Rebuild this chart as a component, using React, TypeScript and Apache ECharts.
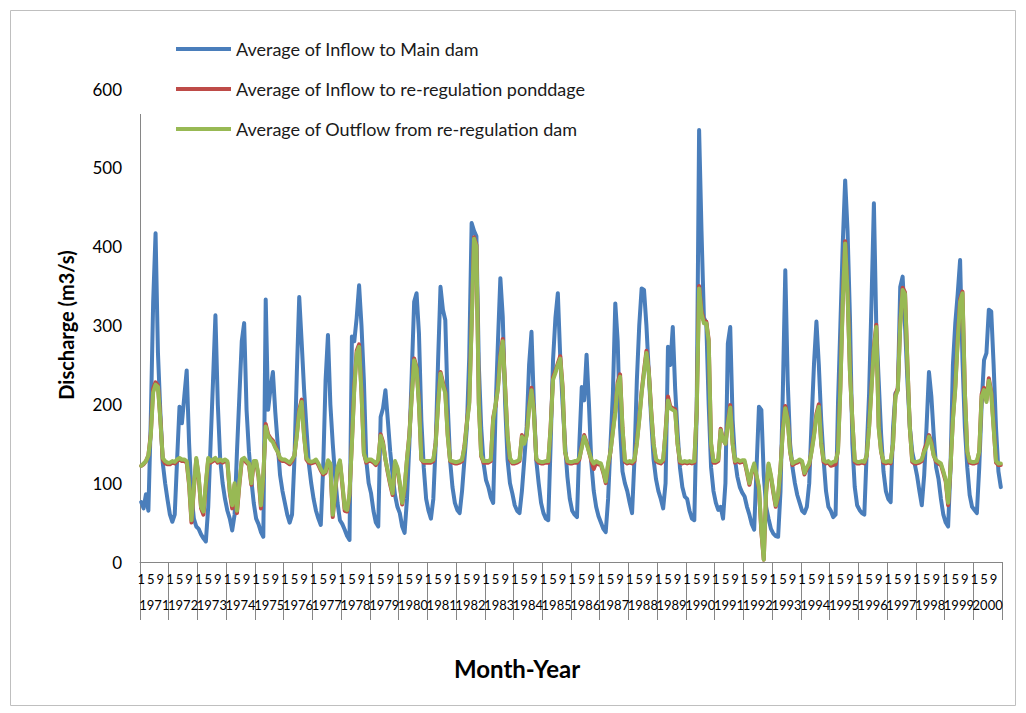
import React, { useEffect, useRef } from 'react';
import * as echarts from 'echarts';

const years = [
  '1971', '1972', '1973', '1974', '1975', '1976', '1977', '1978', '1979', '1980',
  '1981', '1982', '1983', '1984', '1985', '1986', '1987', '1988', '1989', '1990',
  '1991', '1992', '1993', '1994', '1995', '1996', '1997', '1998', '1999', '2000',
];
const monthNumbers = ['1', '2', '3', '4', '5', '6', '7', '8', '9', '10', '11', '12'];
const shownMonths = ['1', '5', '9'];

const seriesNames = [
  'Average of Inflow to Main dam',
  'Average of Inflow to re-regulation ponddage',
  'Average of Outflow from re-regulation dam',
];

// Average of Inflow to Main dam (m3/s), Jan..Dec for each year 1971..2000
const inflowMain = [
  76, 68, 86, 65, 180, 330, 417, 265, 190, 126, 100, 79,
  60, 51, 60, 130, 197, 176, 210, 243, 151, 85, 55, 45,
  42, 35, 30, 26, 70, 151, 230, 313, 200, 130, 100, 80,
  65, 55, 40, 60, 140, 210, 280, 303, 193, 140, 104, 75,
  55, 48, 38, 32, 333, 193, 220, 241, 190, 150, 110, 90,
  75, 60, 50, 60, 130, 240, 336, 280, 220, 170, 125, 100,
  80, 65, 55, 47, 120, 230, 288, 200, 150, 108, 75, 53,
  48, 41, 33, 28, 286, 280, 310, 351, 300, 230, 129, 100,
  87, 65, 50, 45, 184, 195, 218, 180, 140, 110, 85, 70,
  62, 45, 37, 80, 150, 240, 330, 341, 290, 180, 120, 80,
  65, 55, 80, 150, 256, 349, 320, 307, 200, 129, 95, 75,
  66, 62, 90, 130, 170, 260, 430, 420, 413, 250, 170, 125,
  104, 95, 82, 75, 193, 280, 360, 311, 200, 130, 100, 87,
  72, 65, 62, 90, 130, 172, 250, 292, 200, 129, 100, 75,
  62, 55, 53, 150, 256, 310, 341, 260, 200, 150, 108, 80,
  65, 60, 57, 150, 222, 205, 263, 200, 125, 90, 70, 58,
  50, 42, 38, 80, 150, 214, 328, 280, 170, 115, 100, 90,
  75, 62, 130, 230, 300, 347, 345, 300, 240, 180, 130, 105,
  90, 80, 68, 100, 273, 250, 298, 220, 165, 120, 95, 83,
  80, 65, 55, 53, 193, 548, 420, 310, 303, 200, 120, 90,
  75, 66, 70, 55, 100, 277, 298, 180, 130, 108, 95, 88,
  83, 70, 60, 48, 41, 120, 197, 193, 110, 70, 55, 42,
  36, 33, 32, 90, 220, 370, 230, 150, 120, 100, 85, 75,
  65, 62, 70, 100, 180, 252, 305, 250, 180, 130, 90, 70,
  65, 57, 60, 200, 300, 404, 484, 420, 310, 150, 95, 72,
  66, 62, 60, 140, 214, 330, 455, 298, 230, 163, 115, 90,
  80, 76, 170, 214, 218, 349, 362, 300, 230, 172, 140, 125,
  110, 90, 72, 110, 172, 241, 210, 160, 120, 105, 80, 60,
  50, 45, 120, 250, 303, 340, 383, 256, 170, 120, 85, 70,
  66, 62, 120, 200, 256, 265, 320, 318, 250, 170, 115, 95,
];

// Average of Inflow to re-regulation ponddage (m3/s)
const inflowPond = [
  122, 124, 128, 135, 162, 220, 228, 224, 182, 130, 125, 124,
  124, 126, 125, 128, 130, 128, 128, 126, 98, 50, 93, 130,
  108, 68, 60, 98, 130, 126, 128, 130, 126, 128, 126, 128,
  126, 88, 68, 98, 62, 98, 128, 130, 126, 123, 98, 126,
  126, 108, 68, 108, 175, 162, 157, 154, 147, 140, 130, 128,
  128, 126, 124, 128, 135, 162, 193, 206, 162, 130, 126, 125,
  126, 128, 123, 116, 111, 113, 127, 123, 57, 88, 118, 127,
  98, 65, 64, 85, 152, 223, 268, 276, 216, 138, 126, 128,
  128, 126, 123, 128, 162, 152, 130, 113, 98, 85, 126, 118,
  98, 73, 93, 130, 162, 212, 258, 247, 202, 130, 126, 126,
  126, 126, 128, 152, 202, 241, 228, 216, 162, 128, 126, 125,
  125, 126, 128, 147, 177, 203, 303, 412, 402, 202, 134, 126,
  126, 126, 128, 183, 198, 222, 262, 283, 222, 160, 130, 125,
  125, 126, 128, 161, 152, 162, 197, 221, 192, 130, 126, 125,
  125, 126, 126, 172, 234, 242, 252, 261, 222, 140, 126, 125,
  125, 126, 126, 130, 147, 161, 152, 140, 128, 118, 126, 124,
  123, 113, 100, 123, 140, 167, 192, 228, 238, 170, 127, 125,
  126, 125, 128, 152, 182, 216, 243, 268, 242, 192, 150, 128,
  126, 125, 128, 167, 210, 197, 195, 194, 150, 126, 125, 126,
  125, 126, 125, 126, 192, 350, 318, 306, 305, 282, 150, 126,
  126, 128, 169, 155, 150, 177, 199, 150, 126, 128, 126, 127,
  127, 113, 98, 113, 123, 108, 93, 38, 3, 88, 123, 108,
  88, 70, 83, 120, 169, 198, 182, 140, 123, 125, 126, 128,
  126, 111, 118, 123, 142, 162, 188, 200, 150, 127, 125, 126,
  122, 123, 124, 142, 223, 333, 407, 343, 242, 180, 127, 125,
  125, 126, 125, 135, 172, 223, 273, 301, 172, 140, 126, 125,
  126, 125, 150, 212, 221, 302, 348, 342, 252, 170, 127, 125,
  125, 126, 128, 142, 150, 161, 152, 135, 127, 125, 123, 113,
  102, 72, 120, 182, 223, 283, 333, 343, 216, 140, 126, 125,
  125, 126, 140, 213, 221, 205, 233, 216, 172, 126, 123, 123,
];

// Average of Outflow from re-regulation dam (m3/s)
const outflowDam = [
  122, 125, 128, 135, 160, 215, 225, 222, 180, 132, 128, 126,
  126, 128, 127, 130, 132, 130, 130, 128, 100, 53, 95, 132,
  110, 70, 64, 100, 132, 128, 130, 132, 128, 130, 128, 130,
  128, 90, 72, 100, 65, 100, 130, 132, 128, 125, 100, 128,
  128, 110, 72, 110, 172, 160, 155, 152, 145, 140, 132, 130,
  130, 128, 126, 130, 135, 160, 190, 203, 160, 132, 128, 127,
  128, 130, 125, 118, 113, 115, 129, 125, 60, 90, 120, 129,
  100, 68, 66, 87, 150, 220, 265, 273, 214, 138, 128, 130,
  130, 128, 125, 130, 160, 150, 130, 115, 100, 87, 128, 120,
  100, 75, 95, 130, 160, 210, 256, 245, 200, 130, 128, 128,
  128, 128, 130, 150, 200, 239, 225, 214, 160, 129, 128, 127,
  127, 128, 130, 145, 175, 200, 300, 410, 400, 200, 135, 128,
  128, 128, 130, 180, 200, 220, 260, 280, 220, 160, 132, 127,
  127, 128, 130, 159, 150, 160, 195, 218, 190, 131, 128, 127,
  127, 128, 128, 170, 231, 240, 250, 258, 220, 140, 128, 127,
  127, 128, 128, 132, 145, 159, 150, 140, 130, 125, 128, 126,
  125, 115, 102, 125, 140, 165, 190, 225, 235, 170, 129, 127,
  128, 127, 130, 150, 180, 214, 240, 265, 240, 190, 150, 130,
  128, 127, 130, 165, 205, 195, 193, 191, 150, 128, 127, 128,
  127, 128, 127, 128, 190, 347, 315, 303, 303, 280, 150, 128,
  128, 130, 167, 155, 150, 175, 196, 150, 128, 130, 128, 129,
  129, 115, 100, 115, 125, 110, 95, 40, 3, 90, 125, 110,
  90, 72, 85, 120, 167, 195, 180, 140, 125, 127, 128, 130,
  128, 113, 120, 125, 140, 160, 185, 197, 150, 129, 127, 128,
  125, 127, 128, 140, 220, 330, 404, 340, 240, 180, 129, 127,
  127, 128, 127, 135, 170, 220, 270, 298, 170, 140, 128, 127,
  128, 127, 150, 210, 218, 300, 345, 340, 250, 170, 129, 127,
  127, 128, 130, 140, 146, 159, 150, 135, 129, 127, 125, 115,
  104, 75, 120, 180, 220, 280, 330, 341, 214, 140, 128, 127,
  127, 128, 140, 210, 218, 203, 230, 214, 170, 128, 125, 125,
];

const seriesColors = ['#4A7EBB', '#BE4B48', '#98B954'];
const FONT = 'Lato, "Open Sans", sans-serif';

export default function App() {
  const ref = useRef<HTMLDivElement>(null);

  useEffect(() => {
    if (!ref.current) return;
    const chart = echarts.init(ref.current, null, { renderer: 'svg' });
    const categories = years.flatMap((y) => monthNumbers.map((m) => `${y}-${m}`));
    const dataSets = [inflowMain, inflowPond, outflowDam];

    chart.setOption({
      animation: false,
      backgroundColor: '#ffffff',
      textStyle: { fontFamily: FONT },
      grid: { left: 140, right: 24, top: 89, bottom: 151, containLabel: false },
      legend: seriesNames.map((name, i) => ({
        data: [name],
        left: 176,
        top: 40 + i * 40,
        icon: 'rect',
        itemWidth: 55,
        itemHeight: 4,
        padding: 0,
        selectedMode: false,
        z: 5,
        textStyle: { fontFamily: FONT, fontSize: 18, color: '#1a1a1a' },
      })),
      xAxis: [
        {
          type: 'category',
          data: categories,
          boundaryGap: true,
          axisLine: { show: true, lineStyle: { color: '#868686', width: 1 } },
          axisTick: { show: false },
          splitLine: { show: false },
          axisLabel: {
            interval: (index: number, value: string) =>
              shownMonths.includes(value.split('-')[1]),
            formatter: (value: string) => value.split('-')[1],
            margin: 10,
            fontSize: 13,
            color: '#000',
            fontFamily: FONT,
          },
        },
        {
          type: 'category',
          data: years,
          position: 'bottom',
          boundaryGap: true,
          axisLine: { show: false },
          axisTick: { show: true, interval: 0, length: 58, lineStyle: { color: '#868686', width: 1 } },
          splitLine: { show: false },
          axisLabel: { interval: 0, margin: 36, fontSize: 13, color: '#000', fontFamily: FONT },
        },
      ],
      yAxis: {
        type: 'value',
        min: 0,
        max: 600,
        interval: 100,
        axisLine: { show: true, lineStyle: { color: '#868686', width: 1 } },
        axisTick: { show: false },
        splitLine: { show: false },
        axisLabel: { margin: 18, fontSize: 17, color: '#000', fontFamily: FONT },
      },
      series: seriesNames.map((name, i) => ({
        name,
        type: 'line',
        data: dataSets[i],
        xAxisIndex: 0,
        yAxisIndex: 0,
        showSymbol: false,
        symbol: 'none',
        color: seriesColors[i],
        itemStyle: { color: seriesColors[i] },
        lineStyle: { color: seriesColors[i], width: 4, join: 'round', cap: 'round' },
        z: 2 + i,
      })),
      graphic: [
        {
          type: 'rect',
          shape: { x: 10.5, y: 10.5, width: 1005, height: 695 },
          style: { fill: 'none', stroke: '#bfbfbf', lineWidth: 1 },
          silent: true,
          z: -1,
        },
        {
          type: 'rect',
          shape: { x: 130, y: 28, width: 470, height: 86 },
          style: { fill: '#ffffff' },
          silent: true,
          z: 4,
        },
        {
          type: 'text',
          x: 66,
          y: 325,
          rotation: Math.PI / 2,
          style: {
            text: 'Discharge (m3/s)',
            fontFamily: FONT,
            fontSize: 20,
            fontWeight: 'bold',
            fill: '#000',
            align: 'center',
            verticalAlign: 'middle',
          },
          z: 5,
        },
        {
          type: 'text',
          x: 517,
          y: 668,
          style: {
            text: 'Month-Year',
            fontFamily: FONT,
            fontSize: 24,
            fontWeight: 'bold',
            fill: '#000',
            align: 'center',
            verticalAlign: 'middle',
          },
          z: 5,
        },
      ],
    });

    return () => chart.dispose();
  }, []);

  return (
    <div
      ref={ref}
      style={{ position: 'fixed', left: 0, top: 0, width: 1026, height: 713, background: '#fff' }}
    />
  );
}
